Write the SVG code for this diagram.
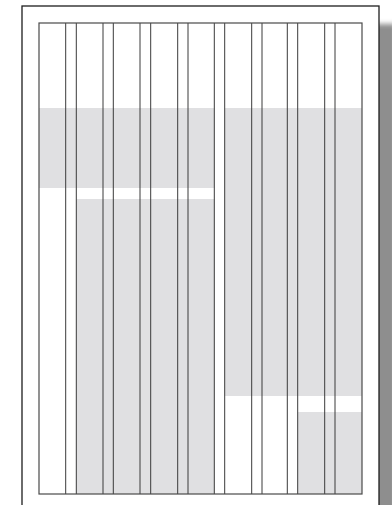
<svg xmlns="http://www.w3.org/2000/svg" width="392" height="505" viewBox="0 0 392 505">
  <defs>
    <filter id="shadowBlur" x="-50%" y="-10%" width="200%" height="120%">
      <feGaussianBlur stdDeviation="2.5"/>
    </filter>
    <style>
      .band { fill: #e0e0e2; }
      .grid { stroke: #3a3a3a; stroke-width: 1; fill: none; }
      .frame { stroke: #4a4a4a; stroke-width: 1.2; fill: none; }
    </style>
  </defs>
  <rect width="392" height="505" fill="#ffffff"/>
  <!-- drop shadow -->
  <rect x="374" y="24" width="22" height="500" fill="#8e8e8e" filter="url(#shadowBlur)"/>
  <!-- page -->
  <rect id="page" x="22" y="6" width="357" height="510" fill="#ffffff" stroke="#1e1e1e" stroke-width="1.3"/>
  <!-- grey areas -->
  <g id="areas">
    <rect class="band" x="39" y="108" width="175.3" height="80"/>
    <rect class="band" x="76.3" y="199" width="138" height="295"/>
    <rect class="band" x="224.7" y="108" width="137.3" height="288"/>
    <rect class="band" x="297.7" y="412" width="64.3" height="82"/>
  </g>
  <!-- column grid -->
  <g id="grid" class="grid">
    <line x1="65.7" y1="23" x2="65.7" y2="494"/>
    <line x1="76.3" y1="23" x2="76.3" y2="494"/>
    <line x1="103" y1="23" x2="103" y2="494"/>
    <line x1="113.3" y1="23" x2="113.3" y2="494"/>
    <line x1="140" y1="23" x2="140" y2="494"/>
    <line x1="150.7" y1="23" x2="150.7" y2="494"/>
    <line x1="177.7" y1="23" x2="177.7" y2="494"/>
    <line x1="188" y1="23" x2="188" y2="494"/>
    <line x1="214.3" y1="23" x2="214.3" y2="494"/>
    <line x1="224.7" y1="23" x2="224.7" y2="494"/>
    <line x1="251.7" y1="23" x2="251.7" y2="494"/>
    <line x1="262" y1="23" x2="262" y2="494"/>
    <line x1="287.3" y1="23" x2="287.3" y2="494"/>
    <line x1="297.7" y1="23" x2="297.7" y2="494"/>
    <line x1="324.7" y1="23" x2="324.7" y2="494"/>
    <line x1="335" y1="23" x2="335" y2="494"/>
  </g>
  <rect id="margin" class="frame" x="39" y="23" width="323" height="471"/>
</svg>
